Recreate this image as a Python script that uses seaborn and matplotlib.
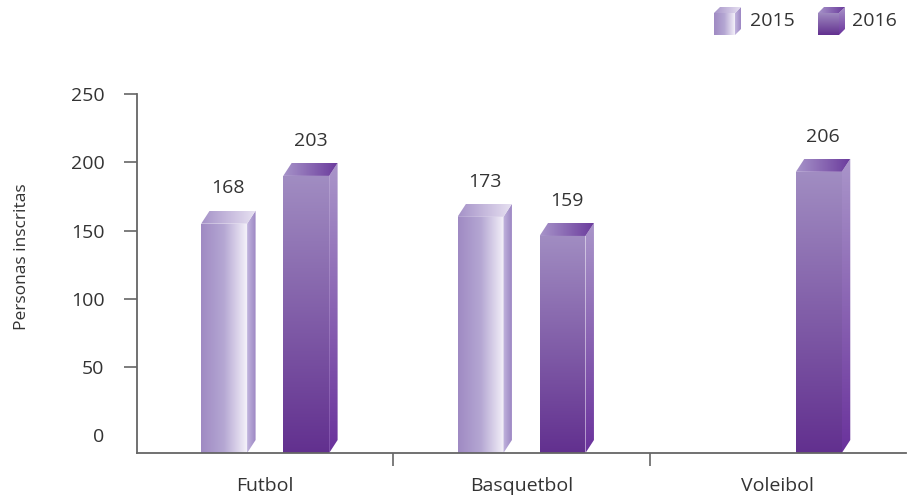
import numpy as np
import pandas as pd
import matplotlib
matplotlib.use("Agg")
import matplotlib.pyplot as plt
import seaborn as sns
from matplotlib.colors import LinearSegmentedColormap
from matplotlib.patches import Polygon
from matplotlib import font_manager

# ---------------- data ----------------
categories = ["Futbol", "Basquetbol", "Voleibol"]
years = ["2015", "2016"]
values_2015 = [168, 173, np.nan]
values_2016 = [203, 159, 206]
y_ticks = [0, 50, 100, 150, 200, 250]
y_label = "Personas inscritas"

df = pd.DataFrame({
    "Deporte": categories * 2,
    "Año": [years[0]] * len(categories) + [years[1]] * len(categories),
    "Personas": values_2015 + values_2016,
})

# ---------------- style ----------------
sns.set_theme(style="white")
names = {f.name for f in font_manager.fontManager.ttflist}
fam = [n for n in ["Open Sans", "Noto Sans", "Lato"] if n in names]
plt.rcParams["font.family"] = fam + ["DejaVu Sans"]
TXT = "#333333"
AX = "#666666"

styles = {
    "2015": {
        "front": ("h", ["#9f8ac3", "#b5a7d3", "#f4f1f9"]),
        "side": ("h", ["#c2b5de", "#9c86c3"]),
        "top": ("h", ["#a592c8", "#e8e2f2"]),
    },
    "2016": {
        "front": ("v", ["#62308f", "#a18dc2"]),
        "side": ("v", ["#6a329c", "#aa96ca"]),
        "top": ("h", ["#a794c9", "#6a3a9c"]),
    },
}


def grad_fill(ax, verts, spec, zorder):
    direction, colors = spec
    poly = Polygon(verts, closed=True, facecolor="none", edgecolor="none")
    ax.add_patch(poly)
    xs = [v[0] for v in verts]
    ys = [v[1] for v in verts]
    cmap = LinearSegmentedColormap.from_list("g", colors)
    if direction == "h":
        arr = np.linspace(0, 1, 256).reshape(1, -1)
    else:
        arr = np.linspace(0, 1, 256).reshape(-1, 1)
    im = ax.imshow(arr, cmap=cmap, extent=[min(xs), max(xs), min(ys), max(ys)],
                   origin="lower", aspect="auto", interpolation="bilinear",
                   zorder=zorder)
    im.set_clip_path(poly)


def draw_box(ax, x0, y0, w, h, dx, dy, style, z=2):
    x1 = x0 + w
    y1 = y0 + h
    grad_fill(ax, [(x0, y0), (x1, y0), (x1, y1), (x0, y1)], style["front"], z)
    grad_fill(ax, [(x1, y0), (x1 + dx, y0 + dy), (x1 + dx, y1 + dy), (x1, y1)], style["side"], z)
    grad_fill(ax, [(x0, y1), (x1, y1), (x1 + dx, y1 + dy), (x0 + dx, y1 + dy)], style["top"], z)


# ---------------- figure ----------------
W, H = 910, 499
fig = plt.figure(figsize=(W / 100, H / 100), dpi=100)
ax = fig.add_axes([137 / W, 46 / H, 769 / W, 359 / H])

sns.barplot(data=df, x="Deporte", y="Personas", hue="Año", hue_order=years,
            order=categories, width=0.64, gap=0.44, dodge=True,
            errorbar=None, legend=False, ax=ax)

OFF = 13.0      # axis zero sits on the back plane
DY = 9.5        # depth (data units)
DX = 0.033      # depth (category units)
YMAX = 263

for hi, cont in enumerate(ax.containers):
    yr = years[hi]
    for bar in cont:
        h = bar.get_height()
        bar.set_visible(False)
        if h is None or np.isnan(h) or h == 0:
            continue
        x0, w = bar.get_x(), bar.get_width()
        draw_box(ax, x0, 0, w, h, DX, DY, styles[yr])
        ax.annotate(f"{int(round(h))}", (x0 + (w + DX) / 2, h + DY),
                    xytext=(0, 16), textcoords="offset points",
                    ha="center", va="center", fontsize=14, color=TXT)

ax.set_xlim(-0.5, 2.5)
ax.set_ylim(0, YMAX)

# axes styling
for s in ["top", "right"]:
    ax.spines[s].set_visible(False)
for s in ["left", "bottom"]:
    ax.spines[s].set_color(AX)
    ax.spines[s].set_linewidth(1.3)
    ax.spines[s].set_zorder(5)

ax.set_yticks([t + OFF for t in y_ticks])
ax.set_yticklabels([str(t) for t in y_ticks])
ax.tick_params(axis="y", which="major", direction="out", length=9.5, width=1.2,
               color=AX, labelsize=14, labelcolor=TXT, pad=14, left=True)
ax.yaxis.get_major_ticks()[0].tick1line.set_visible(False)

ax.set_xticks(range(len(categories)))
ax.set_xticklabels(categories)
ax.set_xticks([i + 0.5 for i in range(len(categories) - 1)], minor=True)
ax.tick_params(axis="x", which="major", length=0, labelsize=14, labelcolor=TXT, pad=17)
ax.tick_params(axis="x", which="minor", direction="out", length=9, width=1.2,
               color=AX, bottom=True)
ax.set_xlabel("")
ax.set_ylabel("")
fig.text(22 / W, 1 - 257 / H, y_label, rotation=90, ha="center", va="center",
         fontsize=12.5, color=TXT)

# ---------------- legend (3D cube icons) ----------------
icon_pos = {"2015": (714, 750), "2016": (818, 852)}
for yr in years:
    ix, tx = icon_pos[yr]
    lax = fig.add_axes([ix / W, 1 - 35 / H, 27 / W, 28 / H])
    lax.set_xlim(0, 27)
    lax.set_ylim(0, 28)
    lax.axis("off")
    draw_box(lax, 0, 0, 21, 22, 6, 6, styles[yr])
    lax.set_xlim(0, 27)
    lax.set_ylim(0, 28)
    fig.text(tx / W, 1 - 21 / H, yr, ha="left", va="center", fontsize=14, color=TXT)

fig.savefig("out.png", dpi=100)
